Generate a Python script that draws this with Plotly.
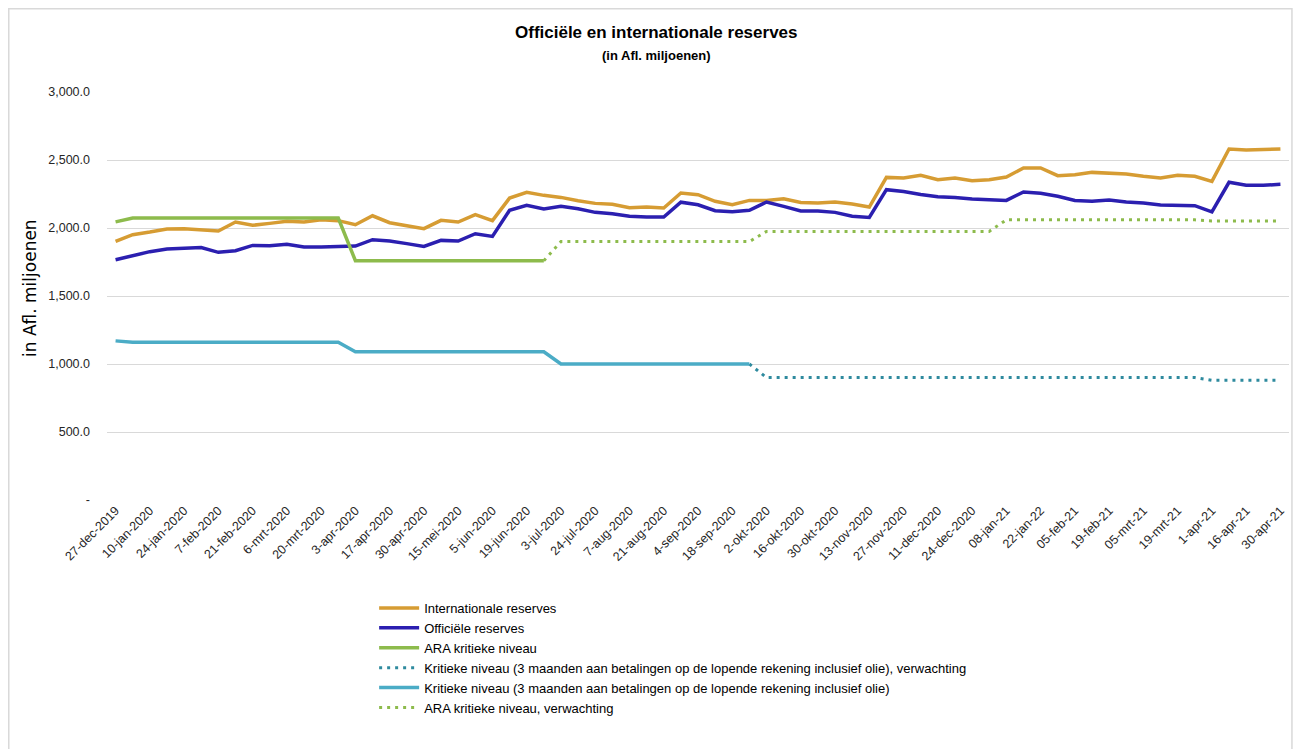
import plotly.graph_objects as go

dates = [
    "27-dec-2019", "3-jan-2020", "10-jan-2020", "17-jan-2020", "24-jan-2020", "31-jan-2020",
    "7-feb-2020", "14-feb-2020", "21-feb-2020", "28-feb-2020", "6-mrt-2020", "13-mrt-2020",
    "20-mrt-2020", "27-mrt-2020", "3-apr-2020", "9-apr-2020", "17-apr-2020", "24-apr-2020",
    "30-apr-2020", "8-mei-2020", "15-mei-2020", "29-mei-2020", "5-jun-2020", "12-jun-2020",
    "19-jun-2020", "26-jun-2020", "3-jul-2020", "17-jul-2020", "24-jul-2020", "31-jul-2020",
    "7-aug-2020", "14-aug-2020", "21-aug-2020", "28-aug-2020", "4-sep-2020", "11-sep-2020",
    "18-sep-2020", "25-sep-2020", "2-okt-2020", "9-okt-2020", "16-okt-2020", "23-okt-2020",
    "30-okt-2020", "6-nov-2020", "13-nov-2020", "20-nov-2020", "27-nov-2020", "4-dec-2020",
    "11-dec-2020", "18-dec-2020", "24-dec-2020", "31-dec-2020", "08-jan-21", "15-jan-21",
    "22-jan-22", "29-jan-21", "05-feb-21", "12-feb-21", "19-feb-21", "26-feb-21",
    "05-mrt-21", "12-mrt-21", "19-mrt-21", "26-mrt-21", "1-apr-21", "9-apr-21",
    "16-apr-21", "23-apr-21", "30-apr-21",
]

internationale = [
    1901, 1951, 1970, 1993, 1995, 1985, 1978, 2044, 2020, 2034, 2049, 2044,
    2061, 2054, 2024, 2090, 2039, 2017, 1995, 2056, 2044, 2098, 2054, 2220,
    2262, 2240, 2225, 2201, 2181, 2174, 2149, 2154, 2147, 2257, 2245, 2196,
    2171, 2203, 2203, 2215, 2188, 2184, 2191, 2176, 2154, 2372, 2367, 2387,
    2355, 2367, 2348, 2355, 2375, 2441, 2441, 2385, 2392, 2409, 2402, 2397,
    2380, 2367, 2387, 2380, 2343, 2581, 2573, 2578, 2581,
]

officiele = [
    1767, 1796, 1826, 1846, 1850, 1857, 1821, 1833, 1872, 1870, 1880, 1860,
    1860, 1865, 1867, 1914, 1904, 1885, 1865, 1909, 1904, 1958, 1938, 2130,
    2167, 2140, 2159, 2142, 2115, 2105, 2086, 2081, 2081, 2190, 2171, 2127,
    2120, 2130, 2191, 2159, 2125, 2125, 2115, 2086, 2078, 2282, 2269, 2247,
    2230, 2225, 2213, 2208, 2203, 2265, 2255, 2233, 2203, 2196, 2206, 2191,
    2184, 2169, 2169, 2164, 2118, 2336, 2314, 2314, 2321,
]

ara_kritiek = [2045] + [2073] * 13 + [1760] * 12 + [None] * 43

kritiek_verwachting = [None] * 37 + [1000] + [900] * 26 + [880] * 5

kritiek = [1170] + [1160] * 13 + [1090] * 12 + [1000] * 12 + [None] * 31

ara_verwachting = [None] * 25 + [1760] + [1900] * 12 + [1975] * 14 + [2060] * 12 + [2052] * 5

y_ticks = [0, 500, 1000, 1500, 2000, 2500, 3000]
y_tick_text = ["-", "500.0", "1,000.0", "1,500.0", "2,000.0", "2,500.0", "3,000.0"]

x = list(range(len(dates)))

FONT = "Liberation Sans Narrow, Liberation Sans, Arial, sans-serif"

fig = go.Figure()
fig.add_trace(go.Scatter(x=x, y=internationale, name="Internationale reserves", mode="lines",
                         line=dict(color="#D69C33", width=3.5)))
fig.add_trace(go.Scatter(x=x, y=officiele, name="Officiële reserves", mode="lines",
                         line=dict(color="#2B1FB0", width=3.5)))
fig.add_trace(go.Scatter(x=x, y=ara_kritiek, name="ARA kritieke niveau", mode="lines",
                         line=dict(color="#8DBB4C", width=3.5)))
fig.add_trace(go.Scatter(x=x, y=kritiek_verwachting,
                         name="Kritieke niveau (3 maanden aan betalingen op de lopende rekening inclusief olie), verwachting",
                         mode="lines", line=dict(color="#2E8A9E", width=3, dash="3px,5px")))
fig.add_trace(go.Scatter(x=x, y=kritiek,
                         name="Kritieke niveau (3 maanden aan betalingen op de lopende rekening inclusief olie)",
                         mode="lines", line=dict(color="#4BACC6", width=3.5)))
fig.add_trace(go.Scatter(x=x, y=ara_verwachting, name="ARA kritieke niveau, verwachting", mode="lines",
                         line=dict(color="#8DBB4C", width=3, dash="3px,5px")))

fig.update_layout(
    width=1296, height=741,
    margin=dict(l=99, r=15, t=84, b=249),
    paper_bgcolor="white", plot_bgcolor="white",
    font=dict(family=FONT, size=13, color="#000000"),
    showlegend=True,
    legend=dict(x=0.226, y=-0.228, xanchor="left", yanchor="top",
                font=dict(family=FONT, size=13, color="#000000"),
                tracegroupgap=0, itemwidth=40, bgcolor="rgba(0,0,0,0)"),
    xaxis=dict(range=[-0.5, 68.5], tickmode="array", tickvals=x[::2], ticktext=dates[::2],
               tickangle=-45, tickfont=dict(family=FONT, size=12.5, color="#262626"),
               showgrid=False, zeroline=False, showline=False, ticks=""),
    yaxis=dict(range=[0, 3000], tickmode="array", tickvals=y_ticks, ticktext=y_tick_text,
               tickfont=dict(family=FONT, size=12.5, color="#262626"),
               showgrid=True, gridcolor="#D9D9D9", gridwidth=1.3, zeroline=False,
               showline=False, ticks="", ticklabelstandoff=16),
    annotations=[
        dict(text="<b>Officiële en internationale reserves</b>", xref="paper", yref="paper",
             x=0.465, y=1.145, xanchor="center", yanchor="middle", showarrow=False,
             font=dict(family=FONT, size=17, color="#000000")),
        dict(text="<b>(in Afl. miljoenen)</b>", xref="paper", yref="paper",
             x=0.465, y=1.09, xanchor="center", yanchor="middle", showarrow=False,
             font=dict(family=FONT, size=13, color="#000000")),
        dict(text="in Afl. miljoenen", xref="paper", yref="paper", textangle=-90,
             x=-0.065, y=0.52, xanchor="center", yanchor="middle", showarrow=False,
             font=dict(family="DejaVu Sans, Verdana, sans-serif", size=17, color="#000000")),
    ],
    shapes=[
        dict(type="rect", xref="paper", yref="paper", x0=-0.0831, x1=1.0025, y0=-0.66, y1=1.204,
             line=dict(color="#D9D9D9", width=1.5), fillcolor="rgba(0,0,0,0)", layer="below"),
    ],
)

fig.write_html("out.html")
